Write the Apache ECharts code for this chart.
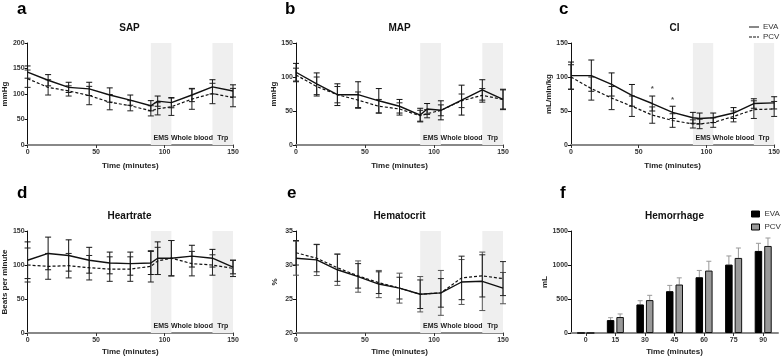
<!DOCTYPE html>
<html>
<head>
<meta charset="utf-8">
<script src="https://cdn.jsdelivr.net/npm/echarts@6/dist/echarts.min.js"></script>
<style>html,body{margin:0;padding:0;background:#fff}#c{width:783px;height:358px}</style>
</head>
<body>
<div id="c"></div>
<script>
// ---- data ----
const t = [0, 15, 30, 45, 60, 75, 90, 95, 105, 120, 135, 150];
const tHct = [0, 15, 30, 45, 60, 75, 90, 105, 120, 135, 150];

const sapEva = [143, 127, 113, 110, 98, 88, 77, 86, 83, 98, 114, 106];
const sapEvaSd = [12, 11, 10, 13, 14, 10, 10, 10, 10, 13, 14, 12];
const sapPcv = [130, 113, 106, 97, 84, 77, 67, 71, 75, 90, 101, 93];
const sapPcvSd = [17, 15, 10, 18, 15, 10, 10, 12, 17, 20, 20, 18];

const mapEva = [107, 90, 74, 74, 65, 57, 44, 53, 51, 66, 81, 67];
const mapEvaSd = [13, 16, 16, 19, 18, 10, 10, 8, 14, 22, 15, 15];
const mapPcv = [103, 86, 74, 66, 57, 53, 43, 46, 51, 65, 73, 67];
const mapPcvSd = [10, 14, 12, 12, 10, 9, 8, 6, 8, 10, 10, 14];

const ciEva = [102, 102, 89, 73, 61, 48, 40, 39, 40, 47, 61, 62];
const ciEvaSd = [20, 23, 17, 16, 11, 9, 8, 8, 7, 8, 7, 9];
const ciPcv = [100, 83, 69, 57, 44, 36, 31, 31, 33, 42, 52, 53];
const ciPcvSd = [18, 17, 17, 15, 12, 10, 6, 7, 7, 8, 13, 11];
const ciStarX = [60, 75];
const ciStarY = [83, 67];

const hrEva = [107, 117, 114, 107, 103, 102, 103, 110, 110, 113, 110, 97];
const hrEvaSd = [27, 24, 23, 19, 16, 17, 17, 24, 26, 16, 13, 10];
const hrPcv = [100, 98, 99, 96, 94, 94, 98, 106, 110, 102, 100, 95];
const hrPcvSd = [25, 19, 18, 18, 18, 18, 23, 20, 26, 18, 15, 12];

const hctEva = [31, 30.75, 29.3, 28.3, 27.2, 26.6, 25.7, 25.9, 27.5, 27.6, 26.6];
const hctEvaSd = [2.5, 2.3, 2.3, 2.3, 2.0, 2.2, 2.6, 3.3, 3.3, 4.3, 2.3];
const hctPcv = [31.8, 31.0, 29.6, 28.4, 27.4, 26.6, 25.7, 25.9, 28.1, 28.4, 28.0];
const hctPcvSd = [1.8, 2.0, 2.0, 1.8, 1.6, 1.6, 2.1, 2.1, 3.2, 3.1, 2.5];

const hemCats = ['0', '15', '30', '45', '60', '75', '90'];
const hemEva = [0, 190, 420, 615, 820, 1006, 1207];
const hemEvaSd = [0, 35, 55, 85, 100, 127, 112];
const hemPcv = [0, 235, 484, 713, 918, 1104, 1280];
const hemPcvSd = [0, 45, 70, 98, 137, 146, 117];

const shadeNames = ['EMS', 'Whole blood', 'Trp'];
const shadeFrom = [90, 105, 135];
const shadeTo = [105, 135, 150];
const shadeOn = [true, false, true];

const panelLetters = ['a', 'b', 'c', 'd', 'e', 'f'];
const panelTitles = ['SAP', 'MAP', 'CI', 'Heartrate', 'Hematocrit', 'Hemorrhage'];
const yNames = ['mmHg', 'mmHg', 'mL/min/kg', 'Beats per minute', '%', 'mL'];
const yMin = [0, 0, 0, 0, 20, 0];
const yMax = [200, 150, 150, 150, 35, 1500];
const yInt = [50, 50, 50, 50, 5, 500];
const xName = 'Time (minutes)';

// ---- layout ----
const FONT = 'Liberation Sans, Arial, sans-serif';
const grids = [
  {left: 26, top: 43, width: 207, height: 102},
  {left: 296, top: 43, width: 207, height: 102},
  {left: 571, top: 43, width: 207, height: 102},
  {left: 26, top: 231, width: 207, height: 102},
  {left: 296, top: 231, width: 207, height: 102},
  {left: 571, top: 231, width: 207, height: 102}
];
const yGaps = [17, 18, 18, 18, 17, 19];
const xGaps = [17, 17, 17, 15, 15, 15];
const letterPos = [[17, 9], [285, 9], [559, 9], [17, 193], [287, 193], [560, 193]];
const titleY = [28, 28, 28, 216, 216, 216];

const tickLabel = {fontSize: 7, fontWeight: 'bold', color: '#333', fontFamily: FONT, formatter: v => String(v)};
const nameStyle = {fontSize: 8, fontWeight: 'bold', color: '#222', fontFamily: FONT};

const xAxes = [], yAxes = [], series = [];
for (let i = 0; i < 6; i++) {
  if (i < 5) {
    xAxes.push({
      gridIndex: i, type: 'value', min: 0, max: 150, interval: 50,
      axisLine: {lineStyle: {color: '#888', width: 2}},
      axisTick: {show: true, length: 3, lineStyle: {color: '#333'}},
      axisLabel: Object.assign({margin: 4}, tickLabel),
      splitLine: {show: false},
      name: xName, nameLocation: 'middle', nameGap: xGaps[i], nameTextStyle: nameStyle
    });
  } else {
    xAxes.push({
      gridIndex: i, type: 'category', data: hemCats,
      axisLine: {lineStyle: {color: '#888', width: 2}},
      axisTick: {show: true, length: 3, alignWithLabel: true, lineStyle: {color: '#333'}},
      axisLabel: Object.assign({margin: 4}, tickLabel, {formatter: null}),
      name: xName, nameLocation: 'middle', nameGap: xGaps[i], nameTextStyle: nameStyle
    });
  }
  yAxes.push({
    gridIndex: i, type: 'value', min: yMin[i], max: yMax[i], interval: yInt[i],
    axisLine: {show: true, lineStyle: {color: '#111', width: 1}},
    axisTick: {show: true, length: 3, lineStyle: {color: '#111'}},
    axisLabel: Object.assign({margin: 3}, tickLabel),
    splitLine: {show: false},
    name: yNames[i], nameLocation: 'middle', nameGap: yGaps[i], nameTextStyle: nameStyle
  });
}

function errSeries(i, xs, m, sd, color) {
  return {
    type: 'custom', xAxisIndex: i, yAxisIndex: i, z: 3, silent: true,
    renderItem: function (params, api) {
      const x = api.value(0), lo = api.value(1), hi = api.value(2);
      const p1 = api.coord([x, lo]), p2 = api.coord([x, hi]);
      const hw = 3;
      const st = {stroke: color, lineWidth: 1};
      return {type: 'group', children: [
        {type: 'line', shape: {x1: p1[0], y1: p1[1], x2: p2[0], y2: p2[1]}, style: st},
        {type: 'line', shape: {x1: p1[0] - hw, y1: p1[1], x2: p1[0] + hw, y2: p1[1]}, style: st},
        {type: 'line', shape: {x1: p2[0] - hw, y1: p2[1], x2: p2[0] + hw, y2: p2[1]}, style: st}
      ]};
    },
    data: xs.map((x, k) => [x, m[k] - sd[k], m[k] + sd[k]])
  };
}

function markAreaDef() {
  return {
    silent: true,
    itemStyle: {color: '#efefef'},
    label: {position: 'insideBottom', distance: 3, fontSize: 7, fontWeight: 'bold', color: '#222', fontFamily: FONT},
    data: shadeNames.map((n, k) => [
      {name: n, xAxis: shadeFrom[k], itemStyle: {color: shadeOn[k] ? '#efefef' : 'rgba(0,0,0,0)'}},
      {xAxis: shadeTo[k]}
    ])
  };
}

const linePanels = [
  [t, sapEva, sapEvaSd, sapPcv, sapPcvSd],
  [t, mapEva, mapEvaSd, mapPcv, mapPcvSd],
  [t, ciEva, ciEvaSd, ciPcv, ciPcvSd],
  [t, hrEva, hrEvaSd, hrPcv, hrPcvSd],
  [tHct, hctEva, hctEvaSd, hctPcv, hctPcvSd]
];
linePanels.forEach((p, i) => {
  const [xs, ev, evSd, pc, pcSd] = p;
  series.push({
    name: 'EVA', type: 'line', xAxisIndex: i, yAxisIndex: i, symbol: 'none', z: 4,
    lineStyle: {color: '#111', width: 1.4, type: 'solid'},
    itemStyle: {color: '#111'},
    data: xs.map((x, k) => [x, ev[k]]),
    markArea: markAreaDef()
  });
  series.push({
    name: 'PCV', type: 'line', xAxisIndex: i, yAxisIndex: i, symbol: 'none', z: 4,
    lineStyle: {color: '#111', width: 1.2, type: [3, 2]},
    itemStyle: {color: '#111'},
    data: xs.map((x, k) => [x, pc[k]])
  });
  series.push(errSeries(i, xs, ev, evSd, i === 4 ? '#555' : '#111'));
  series.push(errSeries(i, xs, pc, pcSd, '#222'));
});

// asterisks on CI
series.push({
  type: 'scatter', xAxisIndex: 2, yAxisIndex: 2, symbolSize: 1, itemStyle: {color: 'rgba(0,0,0,0)'}, silent: true,
  label: {show: true, position: 'inside', formatter: '*', fontSize: 8, fontWeight: 'bold', color: '#222', fontFamily: FONT},
  data: ciStarX.map((x, k) => [x, ciStarY[k]])
});

// hemorrhage bars
const BW = 7.5, BG = 0.27;
series.push({
  name: 'EVA', type: 'bar', xAxisIndex: 5, yAxisIndex: 5, barWidth: BW, barGap: (BG * 100) + '%',
  itemStyle: {color: '#000', borderColor: '#000', borderWidth: 1},
  data: hemEva
});
series.push({
  name: 'PCV', type: 'bar', xAxisIndex: 5, yAxisIndex: 5, barWidth: BW, barGap: (BG * 100) + '%',
  itemStyle: {color: '#999', borderColor: '#111', borderWidth: 1},
  data: hemPcv
});
function barErr(vals, sds, side) {
  return {
    type: 'custom', xAxisIndex: 5, yAxisIndex: 5, z: 1, silent: true,
    renderItem: function (params, api) {
      const c = api.value(0), v = api.value(1), s = api.value(2);
      if (!s) return null;
      const off = side * (BW + BG * BW) / 2;
      const p1 = api.coord([c, v]), p2 = api.coord([c, v + s]);
      const x = p1[0] + off;
      const st = {stroke: '#999', lineWidth: 1};
      return {type: 'group', children: [
        {type: 'line', shape: {x1: x, y1: p1[1], x2: x, y2: p2[1]}, style: st},
        {type: 'line', shape: {x1: x - 2.5, y1: p2[1], x2: x + 2.5, y2: p2[1]}, style: st}
      ]};
    },
    data: vals.map((v, k) => [k, v, sds[k]])
  };
}
series.push(barErr(hemEva, hemEvaSd, -1));
series.push(barErr(hemPcv, hemPcvSd, 1));

const graphics = [];
panelLetters.forEach((L, i) => {
  graphics.push({type: 'text', x: letterPos[i][0], y: letterPos[i][1],
    style: {text: L, fontSize: 17, fontWeight: 'bold', fill: '#000', fontFamily: FONT, verticalAlign: 'middle', align: 'left'}});
  graphics.push({type: 'text', x: grids[i].left + grids[i].width / 2, y: titleY[i],
    style: {text: panelTitles[i], fontSize: 10, fontWeight: 'bold', fill: '#111', fontFamily: FONT, verticalAlign: 'middle', align: 'center'}});
});

const chart = echarts.init(document.getElementById('c'), null, {renderer: 'canvas'});
chart.setOption({
  animation: false,
  backgroundColor: '#fff',
  textStyle: {fontFamily: FONT},
  grid: grids,
  xAxis: xAxes,
  yAxis: yAxes,
  legend: [
    {left: 744, top: 18, orient: 'vertical', itemWidth: 10, itemHeight: 1.4, itemGap: 2,
     textStyle: {fontSize: 8, color: '#333', fontFamily: FONT, padding: [0, 0, 0, -1]}, selectedMode: false,
     data: [
       {name: 'EVA', icon: 'path://M0,0H10V1H0Z', itemStyle: {color: '#111', borderWidth: 0}},
       {name: 'PCV', icon: 'path://M0,0H3V1H0Z M4,0H7V1H4Z M8,0H10V1H8Z', itemStyle: {color: '#111', borderWidth: 0}}
     ]},
    {left: 746, top: 205, orient: 'vertical', itemWidth: 8, itemHeight: 6, itemGap: 5,
     textStyle: {fontSize: 8, color: '#333', fontFamily: FONT}, selectedMode: false,
     data: [
       {name: 'EVA', icon: 'rect', itemStyle: {color: '#000', borderColor: '#000', borderWidth: 1}},
       {name: 'PCV', icon: 'rect', itemStyle: {color: '#999', borderColor: '#000', borderWidth: 1}}
     ]}
  ],
  graphic: graphics,
  series: series
});
</script>
</body>
</html>
